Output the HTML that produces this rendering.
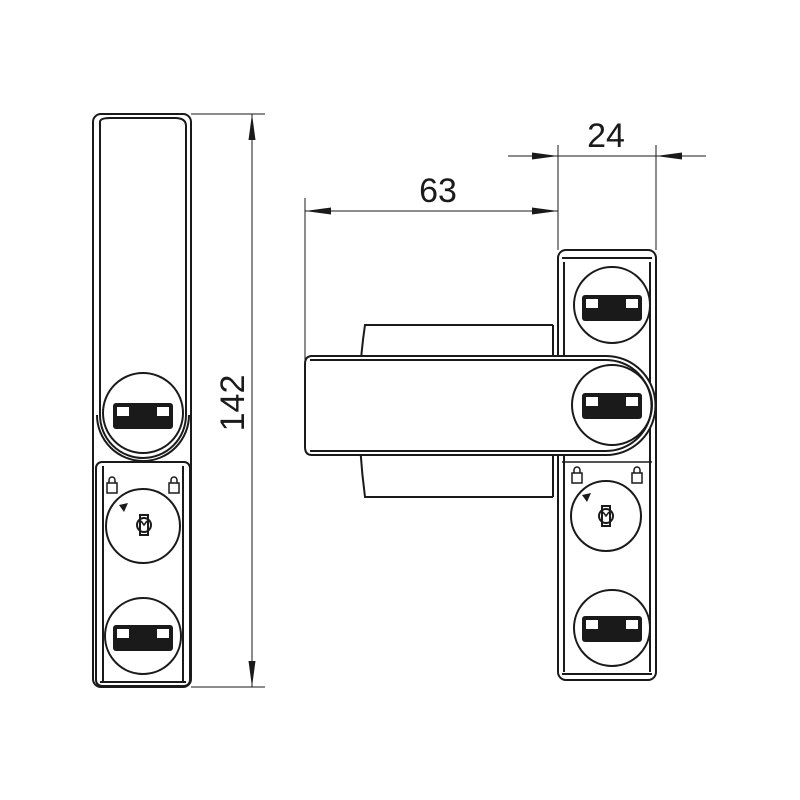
<!DOCTYPE html>
<html><head><style>html,body{margin:0;padding:0;background:#fff}svg{display:block}</style></head><body>
<svg width="800" height="800" viewBox="0 0 800 800" xmlns="http://www.w3.org/2000/svg" font-family="Liberation Sans, sans-serif">
<defs>
<g id="plate">
<rect x="-30" y="-13" width="60" height="26" rx="3" fill="#1a1a1a"/>
<rect x="-26" y="-9" width="12" height="9" fill="#fff"/>
<rect x="14" y="-9" width="12" height="9" fill="#fff"/>
</g>
<g id="lock">
<rect x="-4" y="-10" width="8" height="20" fill="none" stroke="#1a1a1a" stroke-width="2"/>
<circle cx="0" cy="0" r="7" fill="none" stroke="#1a1a1a" stroke-width="2"/>
<path d="M-3,-4 L0,0 L3,-4" stroke="#1a1a1a" fill="none" stroke-width="1.5"/>
</g>
<g id="pad">
<rect x="-5" y="0" width="10" height="10" fill="none" stroke="#1a1a1a" stroke-width="1.5"/>
<path d="M-3,0 V-3 A3,3 0 0 1 3,-3 V0" fill="none" stroke="#1a1a1a" stroke-width="1.5"/>
</g>
</defs>
<g fill="none" stroke="#1a1a1a" stroke-width="2">
<rect x="93" y="114" width="98" height="573" rx="8"/>
<path d="M100,122 Q100,118 110,118 L175,118 Q186,118 186,126 L186,415 M100,122 L100,415"/>
<path d="M97,415 A46,46 0 0 0 189,415"/>
<path d="M100,415 A43,43 0 0 0 186,415"/>
<circle cx="143" cy="413" r="40"/>
<rect x="96" y="462" width="94" height="224" rx="6"/>
<path d="M103,466 L103,682 M183,466 L183,682 M100,682 L186,682"/>
<circle cx="143" cy="526" r="37"/>
<circle cx="143" cy="636" r="38"/>
<g stroke-width="1">
<line x1="191" y1="114" x2="265" y2="114"/>
<line x1="191" y1="687" x2="265" y2="687"/>
<line x1="252" y1="114" x2="252" y2="687"/>
</g>
<path d="M553,325 L365,325 Q353,405 365,497 L553,497" />
<line x1="553" y1="325" x2="553" y2="497"/>
<rect x="558" y="250" width="98" height="430" rx="8"/>
<path d="M564,262 L564,672 M650,262 L650,672 M562,258 L652,258 M562,674 L652,674"/>
<circle cx="612" cy="305" r="38"/>
<path d="M312,356 L606,356 A49.5,49.5 0 0 1 606,455 L312,455 Q305,455 305,447 L305,364 Q305,356 312,356 Z" fill="#fff"/>
<path d="M310,360 L606,360 A45.5,45.5 0 0 1 606,451 L310,451"/>
<circle cx="612" cy="405" r="40"/>
<path d="M562,462 L652,462" stroke-width="1.5"/>
<circle cx="606" cy="516" r="35"/>
<circle cx="612" cy="628" r="38"/>
<g stroke-width="1">
<line x1="305" y1="198" x2="305" y2="360"/>
<line x1="558" y1="145" x2="558" y2="250"/>
<line x1="656" y1="145" x2="656" y2="250"/>
<line x1="305" y1="211" x2="558" y2="211"/>
<line x1="508" y1="156" x2="706" y2="156"/>
</g>
</g>
<g fill="#1a1a1a">
<path d="M252,114 L248.5,140 L255.5,140 Z"/>
<path d="M252,687 L248.5,661 L255.5,661 Z"/>
<path d="M305,211 L331,207.5 L331,214.5 Z"/>
<path d="M558,211 L532,207.5 L532,214.5 Z"/>
<path d="M558,156 L532,152.5 L532,159.5 Z"/>
<path d="M656,156 L682,152.5 L682,159.5 Z"/>
<path d="M119,505 L128,503 L124,512 Z"/>
<path d="M582,495 L591,493 L587,502 Z"/>
</g>
<use href="#plate" x="143" y="416"/>
<use href="#plate" x="143" y="638"/>
<use href="#plate" x="612" y="308"/>
<use href="#plate" x="612" y="406"/>
<use href="#plate" x="612" y="629"/>
<use href="#lock" x="144" y="525"/>
<use href="#lock" x="606" y="516"/>
<use href="#pad" x="112" y="483"/>
<use href="#pad" x="174" y="483"/>
<use href="#pad" x="577" y="473"/>
<use href="#pad" x="637" y="473"/>
<g fill="#1a1a1a" font-size="34">
<text x="438" y="202" text-anchor="middle">63</text>
<text x="606" y="147" text-anchor="middle">24</text>
<text transform="translate(244,403) rotate(-90)" text-anchor="middle">142</text>
</g>
</svg>
</body></html>
